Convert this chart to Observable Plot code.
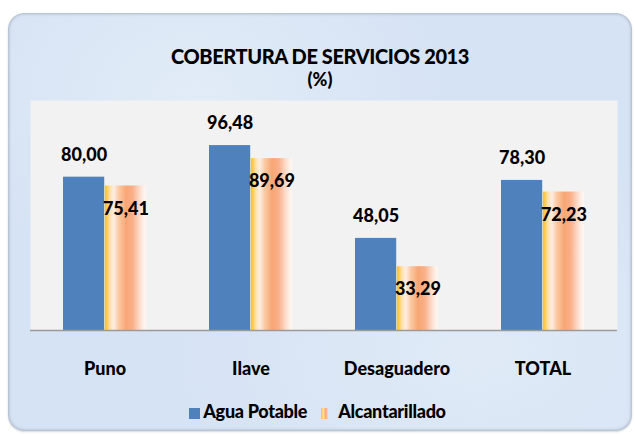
<!DOCTYPE html>
<html><head><meta charset="utf-8">
<script src="https://cdn.jsdelivr.net/npm/d3@7"></script>
<script src="https://cdn.jsdelivr.net/npm/@observablehq/plot@0.6"></script>
<style>
body{margin:0;background:#fff;}
#wrap{position:relative;width:635px;height:434px;overflow:hidden;font-family:Lato,sans-serif;font-weight:bold;color:#000;}
#card{position:absolute;left:8px;top:13px;width:624px;height:418px;border-radius:16px;
  background:radial-gradient(ellipse at 30% 20%, #E2ECF8 0%, rgba(226,236,248,0) 40%),radial-gradient(ellipse at 75% 80%, #E0EAF7 0%, rgba(224,234,247,0) 45%),#D6E3F4;
  box-shadow:inset 0 0 3px 1px #A8B5C6, 0 1px 2px rgba(0,0,0,0.15);}
#title{position:absolute;left:8px;width:624px;top:44px;text-align:center;font-size:20px;line-height:24px;letter-spacing:-0.4px;font-weight:900;}
#sub{position:absolute;left:8px;width:624px;top:68px;text-align:center;font-size:18px;line-height:22px;font-weight:900;}
#chart{position:absolute;left:0;top:90px;}
#legend{position:absolute;left:0;width:635px;top:400px;text-align:center;font-size:18px;line-height:22px;letter-spacing:-0.3px;white-space:nowrap;font-weight:900;}
.sw{display:inline-block;vertical-align:-1px;height:11px;}
</style></head>
<body>
<div id="wrap">
  <div id="card"></div>
  <div id="title">COBERTURA DE SERVICIOS 2013</div>
  <div id="sub">(%)</div>
  <div id="chart"></div>
  <div id="legend"></div>
</div>
<script>
const categorias = ["Puno", "Ilave", "Desaguadero", "TOTAL"];
const series = ["Agua Potable", "Alcantarillado"];
const aguaPotable = [80.00, 96.48, 48.05, 78.30];
const alcantarillado = [75.41, 89.69, 33.29, 72.23];

const fmt = v => v.toFixed(2).replace(".", ",");
const agua = categorias.map((c, i) => ({cat: c, serie: series[0], v: aguaPotable[i]}));
const alc = categorias.map((c, i) => ({cat: c, serie: series[1], v: alcantarillado[i]}));

const BLUE = "#4F81BD";
const half = 41.8;

const chart = Plot.plot({
  width: 635,
  height: 344,
  marginLeft: 30,
  marginRight: 18,
  marginTop: 10,
  marginBottom: 104,
  style: {background: "transparent", fontFamily: "Lato, sans-serif", fontSize: "18px", fontWeight: "900", color: "#000", overflow: "visible"},
  x: {domain: categorias, paddingInner: 0.43, paddingOuter: 0.215, tickSize: 0, tickPadding: 32, label: null},
  y: {domain: [0, 120], axis: null},
  marks: [
    Plot.frame({fill: "#F2F2F2", stroke: null}),
    Plot.barY(agua, {x: "cat", y: "v", fill: BLUE, insetRight: half}),
    Plot.barY(alc, {x: "cat", y: "v", fill: "url(#gradAlc)", insetLeft: half}),
    Plot.ruleY([0], {stroke: "#9A9A9A", strokeWidth: 1.5}),
    Plot.text(agua, {x: "cat", y: "v", text: d => fmt(d.v), dx: -half / 2, dy: -22, fontSize: 18, fontWeight: "900", fill: "#000"}),
    Plot.text(alc, {x: "cat", y: "v", text: d => fmt(d.v), dx: half / 2, dy: 23, fontSize: 18, fontWeight: "900", fill: "#000"})
  ]
});

const stops = [
  [0, "#FFC21A"], [0.05, "#FFCB4E"], [0.12, "#FFE0A6"], [0.22, "#FDEEE4"],
  [0.34, "#FBC9A2"], [0.52, "#F9A675"], [0.68, "#FAB08A"], [0.82, "#FCD6C2"],
  [0.93, "#FEEEE6"], [1, "#FFF7F2"]
];
const defs = d3.select(chart).insert("defs", ":first-child");
const g = defs.append("linearGradient").attr("id", "gradAlc").attr("x1", "0").attr("x2", "1").attr("y1", "0").attr("y2", "0");
stops.forEach(([o, c]) => g.append("stop").attr("offset", o).attr("stop-color", c));

document.getElementById("chart").appendChild(chart);

const leg = document.getElementById("legend");
leg.innerHTML =
  `<span class="sw" style="width:11px;background:${BLUE};margin-right:3px"></span>${series[0]}` +
  `<span class="sw" style="width:7px;margin-left:14px;margin-right:10px;background:linear-gradient(90deg,#FFC21A,#FFE0A6,#F9A675,#FCD6C2)"></span>${series[1]}`;
</script>
</body></html>
